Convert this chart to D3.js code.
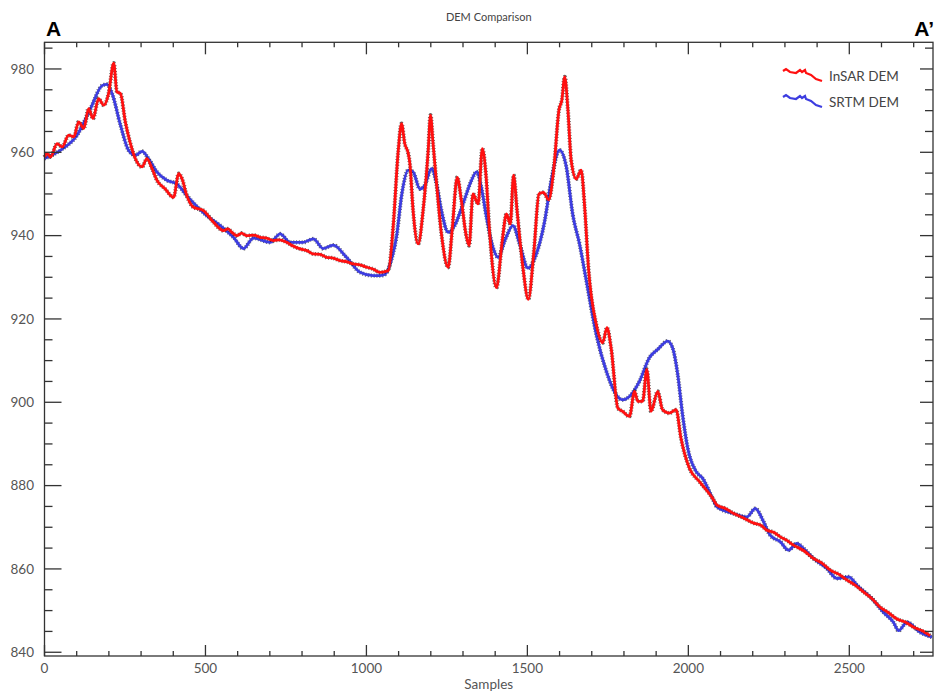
<!DOCTYPE html>
<meta charset="utf-8">
<style>
body { margin: 0; background: #fff; }
text { font-family: Lato, "Open Sans", sans-serif; }
.tick-label { font-size: 13.5px; fill: #555; }
</style>
<svg width="936" height="695"></svg>
<script src="https://d3js.org/d3.v7.min.js"></script>
<script>

// SRTM DEM profile: [sample, elevation]
var srtm = [
  [0,958.5],[50,960.5],[101,964.1],[143,970.5],[179,976.0],[194,976.3],[210,974.1],[236,966.5],
  [261,960.5],[282,959.3],[303,960.2],[323,958.5],[349,955.3],[380,953.3],[411,952.4],[442,949.6],
  [504,944.8],[546,942.4],[587,939.6],[618,936.9],[649,939.4],[701,938.4],[732,940.4],[763,938.4],
  [804,938.4],[835,939.2],[866,936.9],[897,937.7],[938,934.8],[980,931.2],[1021,930.4],[1042,930.4],
  [1058,930.7],[1075,933.5],[1094,940.0],[1110,950.0],[1130,955.7],[1145,955.3],[1166,951.2],
  [1181,952.0],[1202,956.1],[1218,952.4],[1233,946.0],[1254,940.8],[1274,942.4],[1300,947.6],
  [1326,953.2],[1342,955.3],[1357,951.6],[1373,944.4],[1393,937.2],[1409,934.8],[1430,938.8],
  [1455,942.4],[1476,938.0],[1502,932.2],[1528,935.6],[1554,943.6],[1574,953.2],[1600,960.5],
  [1621,956.5],[1641,945.0],[1662,938.0],[1683,929.2],[1714,916.3],[1745,907.5],[1776,901.8],
  [1796,900.6],[1817,901.4],[1848,905.0],[1879,910.7],[1905,912.7],[1936,914.7],[1951,913.1],
  [1967,906.7],[1982,897.0],[1998,889.0],[2024,883.4],[2044,881.8],[2075,877.0],[2089,874.9],
  [2141,873.3],[2182,872.5],[2208,874.5],[2234,871.3],[2254,868.1],[2286,866.5],[2311,864.5],
  [2337,866.1],[2358,864.9],[2389,862.5],[2430,860.1],[2462,857.7],[2498,858.1],[2524,856.1],
  [2570,852.9],[2606,849.6],[2637,847.2],[2653,845.2],[2679,847.2],[2720,844.8],[2757,843.6]
];

// InSAR DEM profile: [sample, elevation]
var insar = [
  [0,958.9],[8,959.7],[19,958.9],[39,962.1],[55,961.3],[75,964.1],[91,963.7],[106,967.3],
  [122,965.7],[137,970.5],[151,968.1],[168,972.9],[184,971.3],[199,974.1],[215,981.4],[225,974.5],
  [236,974.1],[251,967.3],[267,962.1],[282,958.5],[303,956.5],[318,958.5],[334,956.1],[349,953.3],
  [375,951.2],[401,949.2],[417,954.9],[427,953.7],[442,949.6],[463,946.8],[494,946.0],[525,943.2],
  [556,941.2],[570,941.6],[582,940.8],[598,940.0],[612,940.6],[628,940.0],[650,940.1],[670,939.6],
  [690,939.4],[711,938.8],[730,939.0],[752,938.4],[772,937.5],[794,936.8],[815,936.4],[835,935.6],
  [856,935.5],[876,934.8],[897,934.6],[918,934.0],[940,933.7],[959,933.2],[980,933.0],[1001,932.4],
  [1020,932.0],[1042,931.2],[1068,931.6],[1083,942.0],
  [1099,960.5],[1109,966.9],[1119,962.1],[1130,959.7],[1135,957.3],[1145,946.0],[1161,938.0],
  [1176,946.0],[1192,960.5],[1199,968.9],[1207,962.1],[1218,952.4],[1233,940.4],[1254,932.4],
  [1267,942.0],[1282,954.0],[1295,948.4],[1309,940.4],[1319,937.6],[1331,950.0],[1347,947.6],
  [1360,960.9],[1371,954.9],[1383,940.4],[1404,927.5],[1422,938.8],[1435,945.2],[1447,942.8],
  [1457,954.5],[1468,946.0],[1486,932.4],[1503,924.7],[1520,936.0],[1536,950.0],[1550,950.4],
  [1566,948.6],[1582,956.0],[1598,970.1],[1607,972.5],[1616,978.1],[1626,970.1],[1636,958.1],
  [1652,953.6],[1667,955.7],[1678,946.8],[1690,932.0],[1714,918.7],[1734,914.3],[1747,917.9],
  [1760,913.1],[1781,898.6],[1796,897.8],[1817,896.6],[1833,902.6],[1843,900.2],[1858,900.2],
  [1871,907.9],[1884,897.8],[1905,902.6],[1920,898.2],[1941,897.4],[1962,898.2],[1977,891.4],
  [2003,884.2],[2034,881.0],[2075,877.0],[2089,875.3],[2115,874.5],[2141,873.3],[2170,872.3],
  [2203,871.0],[2225,870.5],[2244,869.3],[2265,868.8],[2286,867.7],[2305,866.9],[2327,865.7],
  [2360,864.3],[2389,862.5],[2415,861.4],[2441,859.7],[2468,858.7],[2493,857.3],[2520,856.0],
  [2544,854.5],[2570,852.9],[2596,850.8],[2620,849.6],[2648,848.0],[2675,847.2],[2700,846.0],
  [2725,845.2],[2751,844.0]
];

var xMajor = [0, 500, 1000, 1500, 2000, 2500];
var yMajor = [840, 860, 880, 900, 920, 940, 960, 980];

// little squiggle used as the legend swatch
var legendShape = [[0,0],[3,-2],[7,1],[13,2],[17,-1],[19,1],[22,-1],[23,2],[28,4],[33,8],[39,10]];

var series = [
  {name: "InSAR DEM", data: insar, color: "#ff1010"},
  {name: "SRTM DEM", data: srtm, color: "#3d3de0"}
];

var svg = d3.select("svg");
var plotL = 44.5, plotR = 933, plotT = 42.3, plotB = 656;

var x = d3.scaleLinear().domain([0, 2760]).range([plotL, plotR]);
var y = d3.scaleLinear().domain([839.1, 986.4]).range([plotB, plotT]);

var xMinor = d3.range(0, 2760, 100);
var yMinor = d3.range(840, 987, 5);

/************* LINES ***************/
var line = d3.line()
    .x(function(d) { return x(d[0]); })
    .y(function(d) { return y(d[1]); })
    .curve(d3.curveMonotoneX);

var plot = svg.append("g");

// draw SRTM first, InSAR on top; a dotted dark underlay mimics the sample markers
series.slice().reverse().forEach(function(s) {
  plot.append("path")
      .attr("d", line(s.data))
      .attr("fill", "none")
      .attr("stroke", "#222")
      .attr("stroke-width", 4.2)
      .attr("stroke-dasharray", "1 1.8")
      .attr("stroke-linejoin", "round")
      .attr("opacity", 0.7);
  plot.append("path")
      .attr("d", line(s.data))
      .attr("fill", "none")
      .attr("stroke", s.color)
      .attr("stroke-width", 2.8)
      .attr("stroke-linejoin", "round");
});

/************* FRAME + TICKS ***************/
var frame = svg.append("g").attr("stroke", "#333").attr("stroke-width", 1.3);
frame.append("rect")
    .attr("x", plotL).attr("y", plotT)
    .attr("width", plotR - plotL).attr("height", plotB - plotT)
    .attr("fill", "none");

xMinor.forEach(function(v) {
  var major = xMajor.indexOf(v) >= 0;
  frame.append("line")
      .attr("x1", x(v)).attr("x2", x(v))
      .attr("y1", plotB).attr("y2", plotB - (major ? 11 : 5));
  frame.append("line")
      .attr("x1", x(v)).attr("x2", x(v))
      .attr("y1", plotT).attr("y2", plotT + (major ? 12 : 5));
});

yMinor.forEach(function(v) {
  var major = yMajor.indexOf(v) >= 0;
  frame.append("line")
      .attr("x1", plotL).attr("x2", plotL + (major ? 17 : 8))
      .attr("y1", y(v)).attr("y2", y(v));
  frame.append("line")
      .attr("x1", plotR).attr("x2", plotR - (major ? 13 : 8))
      .attr("y1", y(v)).attr("y2", y(v));
});

/************* LABELS ***************/
svg.selectAll(".xl")
    .data(xMajor)
    .enter().append("text")
    .attr("class", "tick-label")
    .attr("x", function(d) { return x(d); })
    .attr("y", 673)
    .attr("text-anchor", "middle")
    .text(function(d) { return d; });

svg.selectAll(".yl")
    .data(yMajor)
    .enter().append("text")
    .attr("class", "tick-label")
    .attr("x", 34)
    .attr("y", function(d) { return y(d); })
    .attr("dy", "0.35em")
    .attr("text-anchor", "end")
    .text(function(d) { return d; });

svg.append("text")
    .attr("x", (plotL + plotR) / 2).attr("y", 689)
    .attr("text-anchor", "middle")
    .style("font-size", "13.5px").style("fill", "#555")
    .text("Samples");

svg.append("text")
    .attr("x", (plotL + plotR) / 2).attr("y", 21)
    .attr("text-anchor", "middle")
    .style("font-size", "11px").style("fill", "#444")
    .text("DEM Comparison");

svg.append("text")
    .attr("x", 46).attr("y", 36)
    .style("font-family", "'Liberation Sans', Arial, sans-serif")
    .style("font-weight", "bold").style("font-size", "21px")
    .text("A");

svg.append("text")
    .attr("x", 934).attr("y", 36)
    .attr("text-anchor", "end")
    .style("font-family", "'Liberation Sans', Arial, sans-serif")
    .style("font-weight", "bold").style("font-size", "21px")
    .text("A\u2019");

/************* LEGEND ***************/
series.forEach(function(s, i) {
  var g = svg.append("g").attr("transform", "translate(783," + (71 + i * 26) + ")");
  g.append("path")
      .attr("d", d3.line()(legendShape))
      .attr("fill", "none")
      .attr("stroke", s.color)
      .attr("stroke-width", 2.2);
  g.append("text")
      .attr("x", 46).attr("y", 10)
      .style("font-size", "13.5px").style("fill", "#444")
      .text(s.name);
});

</script>
